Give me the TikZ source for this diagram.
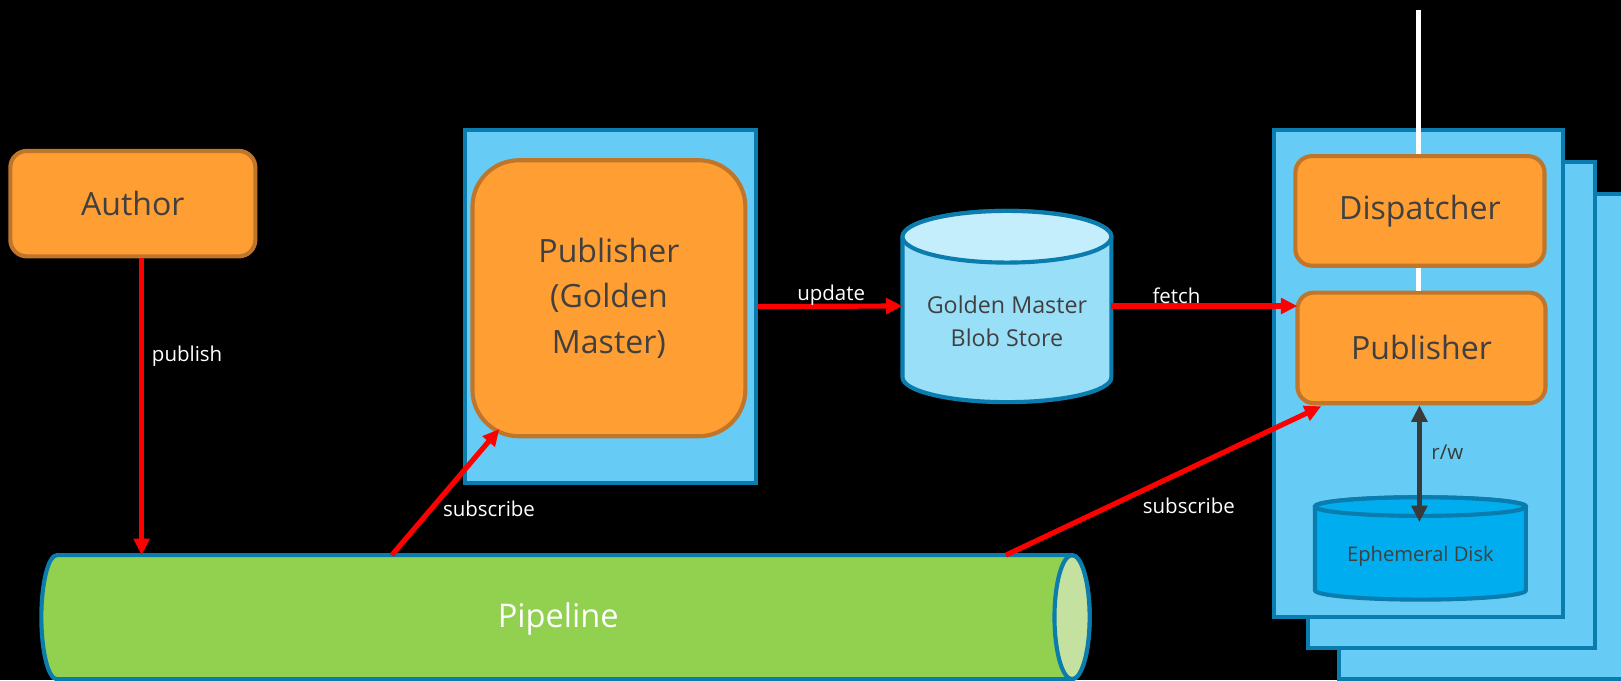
\documentclass[tikz,border=0pt]{standalone}
\usepackage{fontspec}
\setmainfont{Open Sans}
\usetikzlibrary{arrows.meta,calc}
\definecolor{orangefill}{HTML}{FF9E33}
\definecolor{orangeline}{HTML}{C0762A}
\definecolor{boxfill}{HTML}{66CCF5}
\definecolor{boxline}{HTML}{0A7CAE}
\definecolor{textgray}{HTML}{404040}
\definecolor{pipegreen}{HTML}{92D050}
\definecolor{pipelight}{HTML}{C5E1A0}
\definecolor{blobfill}{HTML}{99DFF7}
\definecolor{blobtop}{HTML}{C4EEFC}
\definecolor{diskfill}{HTML}{00AEEF}
\definecolor{arrowdark}{HTML}{3A3A3A}
\begin{document}
\begin{tikzpicture}[x=1pt,y=-1pt,
  orangebox/.style={draw=orangeline, fill=orangefill, line width=4pt, rounded corners=16pt,
    text=textgray, font=\fontsize{31}{44}\selectfont, align=center, inner sep=0pt},
  bluebox/.style={draw=boxline, fill=boxfill, line width=4pt, inner sep=0pt},
  redarrow/.style={draw=red, line width=5pt, -{Triangle[length=16pt,width=15pt]}},
  lbl/.style={text=white, font=\fontsize{19.8}{24}\selectfont, inner sep=0pt},
  cyl/.style={draw=boxline, line width=4pt},
  ghost/.style={inner sep=0pt, outer sep=0pt}
]
\fill[black] (0,0) rectangle (1568,657.8);
\useasboundingbox (0,0) rectangle (1568,657.8);

% Author
\node[orangebox, minimum width=237pt, minimum height=102pt] (author) at (128.5,197) {Author};

% Pipeline
\node[ghost, minimum width=1015pt, minimum height=120pt] (pipe) at (547,597) {};
\path[cyl, fill=pipegreen] (55,537) -- (1037,537) arc[start angle=270, end angle=450, x radius=17, y radius=60]
  -- (55,657) arc[start angle=90, end angle=270, x radius=15, y radius=60] -- cycle;
\path[cyl, fill=pipelight] (1037,597) ellipse[x radius=17, y radius=60];
\node[lbl, font=\fontsize{31.5}{36}\selectfont] (pipetext) at (540,599) {Pipeline};

% Publisher (Golden Master)
\node[bluebox, minimum width=281pt, minimum height=341pt] (pgm) at (590.5,296.5) {};
\node[orangebox, rounded corners=45pt, minimum width=264pt, minimum height=267pt] (pubgm) at (589,288.5)
  {Publisher\\(Golden\\Master)};

% Golden Master Blob Store
\node[ghost, minimum width=202pt, minimum height=184pt] (blob) at (974,296) {};
\path[cyl, fill=blobfill] (873,229) -- (873,365) arc[start angle=180, end angle=0, x radius=101, y radius=24]
  -- (1075,229) arc[start angle=0, end angle=-180, x radius=101, y radius=25] -- cycle;
\path[cyl, fill=blobtop] (974,229) ellipse[x radius=101, y radius=25];
\node[ghost, text=textgray, align=center, font=\fontsize{22.5}{32}\selectfont] (blobtext) at (974,311)
  {Golden Master\\Blob Store};

% Stacked instances
\node[bluebox, minimum width=356pt, minimum height=469pt] (inst3) at (1473,422.5) {};
\node[bluebox, minimum width=278pt, minimum height=470pt] (inst2) at (1404,392) {};
\node[bluebox, minimum width=280pt, minimum height=471pt] (inst) at (1372,361.5) {};

\coordinate (wtop) at (1372,10);
\node[orangebox, minimum width=240pt, minimum height=107pt] (pub) at (1375,336.5) {Publisher};
\draw[white, line width=5pt] (wtop) -- (wtop |- pub.north);
\node[orangebox, minimum width=241pt, minimum height=106pt] (disp) at (1373.5,204) {Dispatcher};

% Ephemeral disk
\node[ghost, minimum width=204pt, minimum height=98pt] (disk) at (1374,531) {};
\path[cyl, fill=diskfill] (1272,490) -- (1272,571) arc[start angle=180, end angle=0, x radius=102, y radius=9]
  -- (1476,490) arc[start angle=0, end angle=-180, x radius=102, y radius=9] -- cycle;
\path[cyl, fill=diskfill] (1374,490) ellipse[x radius=102, y radius=9];
\node[ghost, text=textgray, font=\fontsize{19.5}{22}\selectfont] (disktext) at (1374,538) {Ephemeral Disk};

% Connectors
\coordinate (pipeA) at (379,537);
\coordinate (pipeB) at (973,537);
\coordinate (pgmcorner) at (483,415);
\coordinate (pubcorner) at (1278,393);
\coordinate (pubfetch) at (1255,296);
\coordinate (disktop) at (1373,505);
\coordinate (authorout) at (137,250);

\draw[redarrow] (authorout) -- (authorout |- pipe.north);
\draw[redarrow] (pipeA) -- (pgmcorner);
\draw[redarrow] (pgm.east) -- (blob.west);
\draw[redarrow] (blob.east) -- (pubfetch);
\draw[redarrow] (pipeB) -- (pubcorner);
\draw[arrowdark, line width=5pt, {Triangle[length=16pt,width=15pt]}-{Triangle[length=16pt,width=15pt]}]
  (pub.south -| disktop) -- (disktop);

% Labels
\node[lbl] (lpublish) at (181,345) {publish};
\node[lbl] (lsub1) at (473,492) {subscribe};
\node[lbl] (lupdate) at (804,286) {update};
\node[lbl] (lfetch) at (1138,286) {fetch};
\node[lbl] (lsub2) at (1150,489) {subscribe};
\node[lbl, text=arrowdark] (lrw) at (1400,437) {r/w};
\end{tikzpicture}
\end{document}
